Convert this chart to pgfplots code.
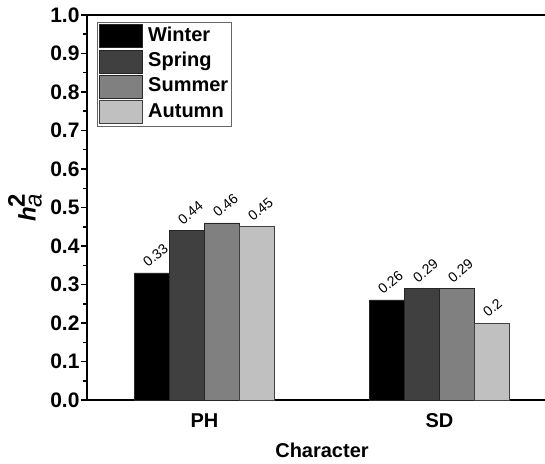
\documentclass[border=0pt]{standalone}
\usepackage{fontspec}
\setmainfont{Liberation Sans}
\usepackage{pgfplots}
\pgfplotsset{compat=1.18}
\definecolor{cWinter}{HTML}{000000}
\definecolor{cSpring}{HTML}{404040}
\definecolor{cSummer}{HTML}{808080}
\definecolor{cAutumn}{HTML}{C0C0C0}
\begin{document}
\begin{tikzpicture}
\begin{axis}[
  name=ax,
  scale only axis,
  width=458pt, height=385pt,
  xmin=0.5, xmax=2.449,
  ymin=0, ymax=1,
  axis x line=box, axis y line=left,
  x axis line style={-}, y axis line style={-},
  axis line style={line width=2pt, black},
  ybar=0pt, bar width=35pt,
  xtick={1,2}, xticklabels={PH,SD},
  xtick style={draw=none},
  xticklabel style={font=\fontsize{20}{22}\selectfont\bfseries, yshift=-4pt},
  ytick={0,0.1,...,1.0},
  minor y tick num=1,
  tick align=outside,
  ytick style={line width=1.5pt, black},
  major tick length=6pt, minor tick length=3.5pt,
  yticklabel style={font=\fontsize{21}{22}\selectfont\bfseries, xshift=2pt,
    /pgf/number format/.cd, fixed, fixed zerofill, precision=1},
  /pgf/number format/assume math mode=true,
  every axis y label/.style={at={(axis description cs:0,0.5)}, xshift=-62pt, rotate=90, anchor=center},
  ylabel={\fontsize{24}{26}\selectfont$\textbf{\textit{h}}^{\textbf{2}}_{\textit{a}}$},
  every axis x label/.style={at={(axis description cs:0.5,0)}, xshift=6pt, yshift=-50pt, anchor=center},
  xlabel={\fontsize{20}{24}\selectfont\bfseries Character},
  nodes near coords,
  every node near coord/.append style={font=\fontsize{14}{16}\selectfont, xshift=-8pt, yshift=8pt, rotate=40, anchor=west, inner sep=1pt},
  legend style={at={(axis description cs:0,1)}, anchor=north west, xshift=10pt, yshift=-7pt,
    draw=black!60, line width=0.8pt, inner xsep=2pt, inner ysep=2pt,
    font=\fontsize{20}{22}\selectfont\bfseries, row sep=1.5pt,
    nodes={inner sep=1pt, text height=14.5pt, text depth=4.5pt}},
  legend cell align=left,
  legend image code/.code={\draw[#1, line width=0.8pt] (0pt,-11.5pt) rectangle (43pt,11.5pt);},
  legend style={column sep=4pt},
]
\addplot[fill=cWinter, draw=black!85, line width=0.8pt] coordinates {(1,0.33) (2,0.26)};
\addplot[fill=cSpring, draw=black!85, line width=0.8pt] coordinates {(1,0.44) (2,0.29)};
\addplot[fill=cSummer, draw=black!85, line width=0.8pt] coordinates {(1,0.46) (2,0.29)};
\addplot[fill=cAutumn, draw=black!75, line width=0.8pt] coordinates {(1,0.45) (2,0.20)};
\legend{Winter,Spring,Summer,Autumn}
\end{axis}
\pgfresetboundingbox
\path ([shift={(-87pt,-63pt)}]ax.south west) rectangle ([shift={(0pt,15pt)}]ax.north east);
\end{tikzpicture}
\end{document}
